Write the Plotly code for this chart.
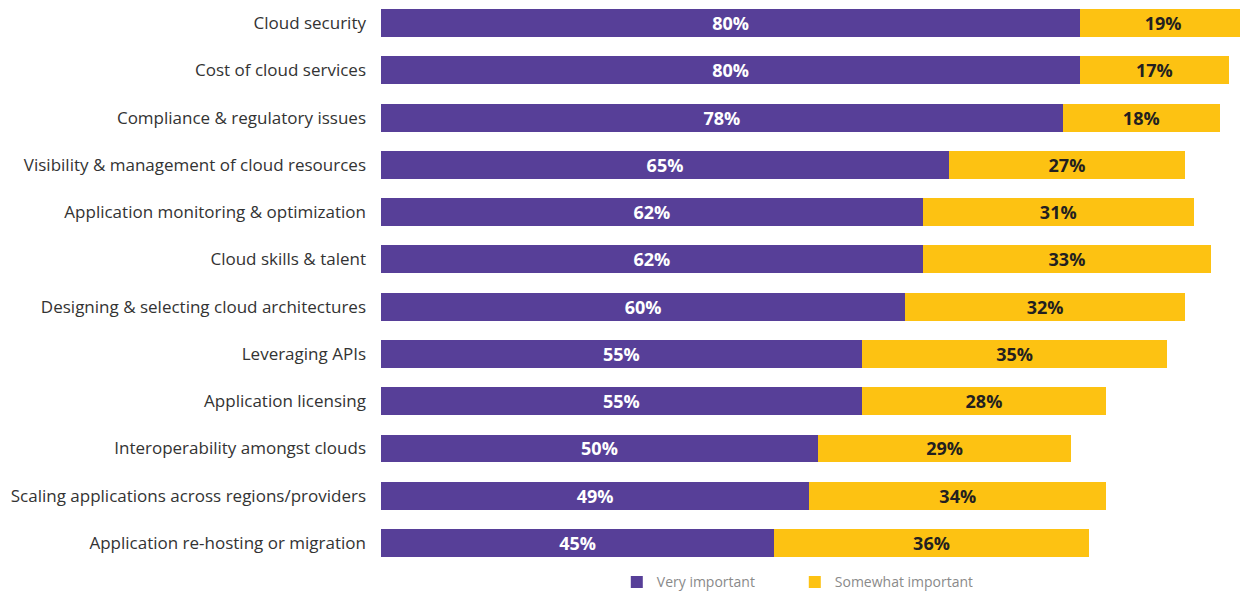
import plotly.graph_objects as go

categories = [
    "Cloud security",
    "Cost of cloud services",
    "Compliance & regulatory issues",
    "Visibility & management of cloud resources",
    "Application monitoring & optimization",
    "Cloud skills & talent",
    "Designing & selecting cloud architectures",
    "Leveraging APIs",
    "Application licensing",
    "Interoperability amongst clouds",
    "Scaling applications across regions/providers",
    "Application re-hosting or migration",
]
very_important = [80, 80, 78, 65, 62, 62, 60, 55, 55, 50, 49, 45]
somewhat_important = [19, 17, 18, 27, 31, 33, 32, 35, 28, 29, 34, 36]

PURPLE = "#573F98"
YELLOW = "#FDC212"
FONT = "Open Sans, Lato, sans-serif"

fig = go.Figure()
fig.add_trace(go.Bar(
    y=categories, x=very_important, orientation="h", name="Very important",
    marker=dict(color=PURPLE, line=dict(width=0)),
    text=[f"{v}%" for v in very_important], textposition="inside",
    insidetextanchor="middle", constraintext="none",
    textfont=dict(color="white", size=18, family=FONT, weight="bold"),
))
fig.add_trace(go.Bar(
    y=categories, x=somewhat_important, orientation="h", name="Somewhat important",
    marker=dict(color=YELLOW, line=dict(width=0)),
    text=[f"{v}%" for v in somewhat_important], textposition="inside",
    insidetextanchor="middle", constraintext="none",
    textfont=dict(color="#231F20", size=18, family=FONT, weight="bold"),
))

fig.update_layout(
    barmode="stack",
    bargap=0.41,
    width=1240, height=594,
    margin=dict(l=381, r=0, t=0, b=0, autoexpand=False),
    paper_bgcolor="white", plot_bgcolor="white",
    font=dict(family=FONT, color="#333333", size=17),
    showlegend=True,
    legend=dict(
        orientation="h", x=0.2745, xanchor="left", y=0.0195, yanchor="middle",
        font=dict(size=14, color="#8a8a8a", family=FONT),
        itemwidth=30, traceorder="normal",
        entrywidth=133, entrywidthmode="pixels",
        bgcolor="rgba(0,0,0,0)",
    ),
    xaxis=dict(range=[0, 98.3], visible=False, fixedrange=True),
    yaxis=dict(
        range=[12.08, -0.49], showgrid=False, showline=False, zeroline=False,
        ticks="", ticklabelstandoff=14,
        tickfont=dict(size=17, color="#333333", family=FONT),
    ),
)

fig.write_html("out.html")
